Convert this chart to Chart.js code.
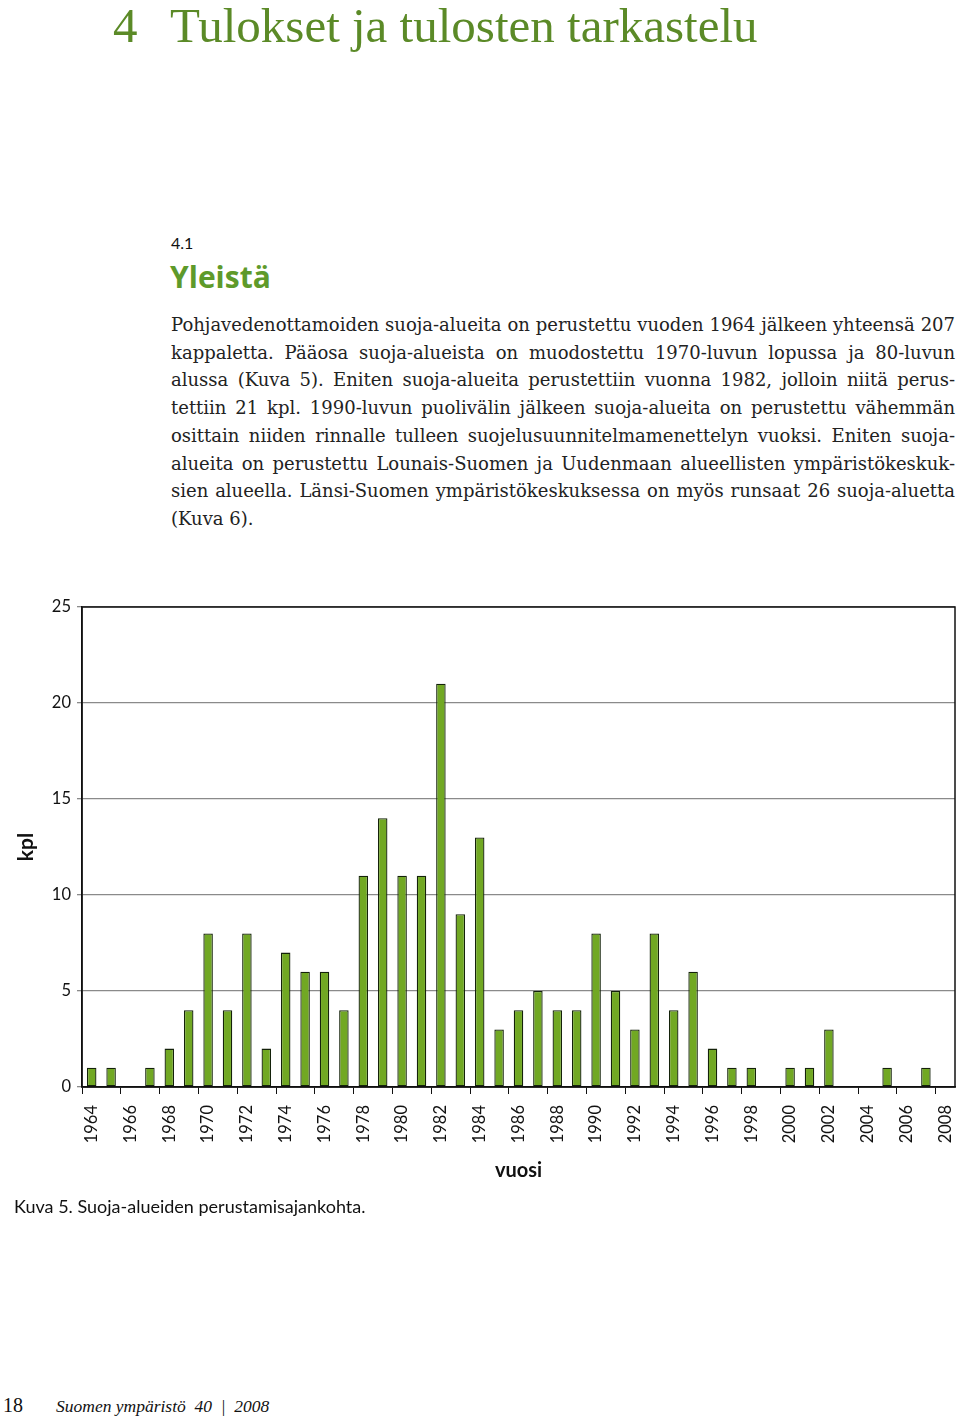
<!DOCTYPE html>
<html>
<head>
<meta charset="utf-8">
<script src="https://cdn.jsdelivr.net/npm/chart.js@4"></script>
<style>
  body { margin: 0; width: 960px; height: 1418px; position: relative; background: #fff; overflow: hidden; }
  .abs { position: absolute; white-space: nowrap; }
  .h1 { font-family: "Liberation Serif", serif; font-size: 49px; color: #5b8a27; top: 0px; line-height: 52px; }
  .sec { font-family: Lato, sans-serif; font-size: 16px; left: 171px; top: 233px; color: #111; }
  .h2 { font-family: "Open Sans", sans-serif; font-weight: bold; font-size: 30px; color: #5e9a2a; left: 170px; top: 256px; }
  .para { position: absolute; left: 171px; top: 311px; width: 784px; font-family: "DejaVu Serif", serif; font-size: 18px; line-height: 27.7px; color: #222; }
  .para div { text-align: justify; text-align-last: justify; white-space: nowrap; }
  .para div.last { text-align-last: left; }
  .caption { font-family: Lato, sans-serif; font-size: 18px; left: 14px; top: 1195px; color: #111; }
  .foot { font-family: "Liberation Serif", serif; color: #111; top: 1394px; }
  #wrap { position: absolute; left: 0; top: 591px; width: 960px; height: 609px; }
</style>
</head>
<body>
<div class="abs h1" style="left:113px">4</div>
<div class="abs h1" style="left:170px">Tulokset ja tulosten tarkastelu</div>
<div class="abs sec">4.1</div>
<div class="abs h2">Yleistä</div>
<div class="para">
  <div>Pohjavedenottamoiden suoja-alueita on perustettu vuoden 1964 jälkeen yhteensä 207</div>
  <div>kappaletta. Pääosa suoja-alueista on muodostettu 1970-luvun lopussa ja 80-luvun</div>
  <div>alussa (Kuva 5). Eniten suoja-alueita perustettiin vuonna 1982, jolloin niitä perus-</div>
  <div>tettiin 21 kpl. 1990-luvun puolivälin jälkeen suoja-alueita on perustettu vähemmän</div>
  <div>osittain niiden rinnalle tulleen suojelusuunnitelmamenettelyn vuoksi. Eniten suoja-</div>
  <div>alueita on perustettu Lounais-Suomen ja Uudenmaan alueellisten ympäristökeskuk-</div>
  <div>sien alueella. Länsi-Suomen ympäristökeskuksessa on myös runsaat 26 suoja-aluetta</div>
  <div class="last">(Kuva 6).</div>
</div>
<div id="wrap"><canvas id="kuva5"></canvas></div>
<div class="abs caption">Kuva 5. Suoja-alueiden perustamisajankohta.</div>
<div class="abs foot" style="left:3px; font-size:20px;">18</div>
<div class="abs foot" style="left:56px; top:1396px; font-size:17.5px; font-style:italic;">Suomen ympäristö&nbsp;&nbsp;40&nbsp;&nbsp;|&nbsp;&nbsp;2008</div>

<script>
// vuodet ja perustetut suoja-alueet (kpl)
const vuodet = [];
for (let v = 1964; v <= 2008; v++) vuodet.push(String(v));
const kpl = [1, 1, 0, 1, 2, 4, 8, 4, 8, 2,
             7, 6, 6, 4, 11, 14, 11, 11, 21, 9,
             13, 3, 4, 5, 4, 4, 8, 5, 3, 8,
             4, 6, 2, 1, 1, 0, 1, 1, 3, 0,
             0, 1, 0, 1, 0];
const yTicks = [0, 5, 10, 15, 20, 25];

// kehys kaavioalueen ympärille
const frame = {
  id: 'frame',
  afterDraw(chart) {
    const a = chart.chartArea, c = chart.ctx;
    c.save();
    c.strokeStyle = '#111';
    c.lineWidth = 1.5;
    c.strokeRect(a.left, a.top, a.right - a.left, a.bottom - a.top);
    c.restore();
  }
};

const ctx = document.getElementById('kuva5').getContext('2d');
new Chart(ctx, {
  type: 'bar',
  data: {
    labels: vuodet,
    datasets: [{
      data: kpl,
      backgroundColor: '#71a823',
      borderColor: '#14220a',
      borderWidth: 1.3,
      borderSkipped: false,
      categoryPercentage: 1,
      barPercentage: 0.49
    }]
  },
  options: {
    responsive: true,
    maintainAspectRatio: false,
    animation: false,
    layout: { padding: { top: 16, right: 5, left: 0, bottom: 0 } },
    plugins: { legend: { display: false }, tooltip: { enabled: false } },
    scales: {
      x: {
        offset: true,
        afterFit(scale) {
          scale.height = 113;
          scale.paddingLeft = 0;
          scale.paddingRight = 0;
        },
        grid: {
          offset: true,
          drawOnChartArea: false,
          tickLength: 7,
          color: ctx => (ctx.index % 2 === 0 ? '#111' : 'rgba(0,0,0,0)')
        },
        border: { color: '#111', width: 1.5 },
        ticks: {
          autoSkip: false,
          minRotation: 90,
          maxRotation: 90,
          padding: 11,
          color: '#111',
          font: { family: 'Lato', size: 16.5 },
          callback: function(val, i) { return i % 2 === 0 ? this.getLabelForValue(val) : ''; }
        },
        title: {
          display: true,
          text: 'vuosi',
          color: '#111',
          font: { family: 'Lato', size: 20, weight: 'bold' },
          padding: { top: 0, bottom: 17 }
        }
      },
      y: {
        min: 0,
        max: 25,
        afterFit(scale) { scale.width = 82; },
        afterBuildTicks(scale) { scale.ticks = yTicks.map(v => ({ value: v })); },
        grid: { color: '#8a8a8a', lineWidth: 1.3, tickLength: 5 },
        border: { color: '#111', width: 1.5 },
        ticks: {
          padding: 6,
          color: '#111',
          font: { family: 'Lato', size: 16.5 }
        },
        title: {
          display: true,
          text: 'kpl',
          color: '#111',
          font: { family: 'Lato', size: 21, weight: 'bold' },
          padding: { top: 14, bottom: 0 }
        }
      }
    }
  },
  plugins: [frame]
});
</script>
</body>
</html>
